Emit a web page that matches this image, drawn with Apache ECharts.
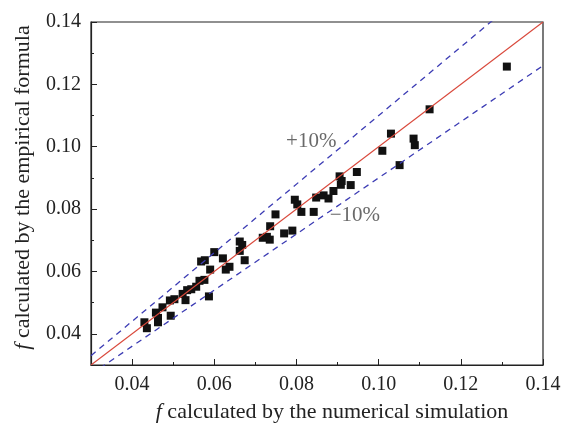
<!DOCTYPE html>
<html>
<head>
<meta charset="utf-8">
<script src="https://cdn.jsdelivr.net/npm/echarts@6/dist/echarts.min.js"></script>
<style>
  html, body { margin: 0; padding: 0; background: #fff; }
  #chart { width: 562px; height: 425px; }
</style>
</head>
<body>
<div id="chart"></div>
<script>
// f from the numerical simulation (x) vs f from the empirical formula (y)
var points = [
  [0.0430, 0.0437], [0.0436, 0.0418], [0.0458, 0.0468], [0.0463, 0.0451],
  [0.0463, 0.0437], [0.0474, 0.0485], [0.0494, 0.0458], [0.0492, 0.0507],
  [0.0503, 0.0511], [0.0523, 0.0528], [0.0530, 0.0508], [0.0534, 0.0540],
  [0.0544, 0.0543], [0.0556, 0.0551], [0.0564, 0.0570], [0.0576, 0.0573],
  [0.0587, 0.0520], [0.0568, 0.0632], [0.0577, 0.0636], [0.0590, 0.0606],
  [0.0600, 0.0662], [0.0621, 0.0642], [0.0628, 0.0606], [0.0637, 0.0615],
  [0.0662, 0.0696], [0.0668, 0.0685], [0.0662, 0.0666], [0.0674, 0.0636],
  [0.0718, 0.0708], [0.0728, 0.0711], [0.0735, 0.0702], [0.0736, 0.0745],
  [0.0749, 0.0783], [0.0770, 0.0722], [0.0790, 0.0731], [0.0796, 0.0830],
  [0.0802, 0.0815], [0.0812, 0.0791], [0.0842, 0.0791], [0.0848, 0.0837],
  [0.0866, 0.0844], [0.0878, 0.0834], [0.0890, 0.0858], [0.0905, 0.0905],
  [0.0910, 0.0890], [0.0908, 0.0878], [0.0932, 0.0877], [0.0947, 0.0919],
  [0.1009, 0.0987], [0.1030, 0.1042], [0.1051, 0.0941], [0.1085, 0.1026],
  [0.1088, 0.1005], [0.1124, 0.1120], [0.1312, 0.1257]
];

var axisMin = 0.03;
var axisMax = 0.14;
var majorTicks = [0.04, 0.06, 0.08, 0.10, 0.12, 0.14];
var minorTicks = [0.05, 0.07, 0.09, 0.11, 0.13];

// reference lines: y = x and +/-10 %
var bandFactors = [1.1, 0.9];
var perfectLine = [[axisMin, axisMin], [axisMax, axisMax]];
var upperLine = [[axisMin, axisMin * bandFactors[0]], [axisMax, axisMax * bandFactors[0]]];
var lowerLine = [[axisMin, axisMin * bandFactors[1]], [axisMax, axisMax * bandFactors[1]]];

var notes = [
  { text: '+10%', at: [0.0836, 0.1018] },
  { text: '\u221210%', at: [0.0942, 0.0781] }
];

var serif = '"Liberation Serif", "DejaVu Serif", serif';
var ink = '#222';

function mainAxis(name, gap, rotate, pad) {
  return {
    type: 'value', min: axisMin, max: axisMax,
    name: name, nameLocation: 'middle', nameGap: gap, nameRotate: rotate,
    nameTextStyle: {
      fontFamily: serif, fontSize: 22, color: ink, padding: pad,
      rich: { i: { fontFamily: serif, fontSize: 22, fontStyle: 'italic', color: ink } }
    },
    axisLine: { show: true, onZero: false, lineStyle: { color: ink, width: 1.2 } },
    axisTick: { show: true, inside: true, length: 6, customValues: majorTicks, lineStyle: { color: ink } },
    axisLabel: {
      customValues: majorTicks, fontFamily: serif, fontSize: 20, color: ink, margin: 10,
      formatter: function (v) { return v.toFixed(2); }
    },
    splitLine: { show: false }
  };
}

function minorAxis(pos) {
  return {
    type: 'value', min: axisMin, max: axisMax, position: pos,
    axisLine: { show: false },
    axisTick: { show: true, inside: true, length: 3, customValues: minorTicks, lineStyle: { color: ink } },
    axisLabel: { show: false },
    splitLine: { show: false }
  };
}

var chart = echarts.init(document.getElementById('chart'), null, { renderer: 'canvas' });

chart.setOption({
  backgroundColor: '#fff',
  animation: false,
  grid: {
    left: 91, right: 19, top: 22, bottom: 60,
    show: true, borderColor: ink, borderWidth: 1.2,
    outerBoundsMode: 'none'
  },
  xAxis: [
    mainAxis('{i|f} calculated by the numerical simulation', 36, 0, [0, 0, 0, 30]),
    minorAxis('bottom')
  ],
  yAxis: [
    mainAxis('{i|f} calculated by the empirical formula', 57, 90, [0, 0, 0, 12]),
    minorAxis('left')
  ],
  series: [
    {
      type: 'line', data: upperLine, symbol: 'none', clip: true,
      lineStyle: { color: '#3c3cb4', width: 1.3, type: [6, 5] }
    },
    {
      type: 'line', data: lowerLine, symbol: 'none', clip: true,
      lineStyle: { color: '#3c3cb4', width: 1.3, type: [6, 5] }
    },
    {
      type: 'line', data: perfectLine, symbol: 'none', clip: true,
      lineStyle: { color: '#d9483b', width: 1.1 }
    },
    {
      type: 'scatter', data: points, symbol: 'rect', symbolSize: 8,
      itemStyle: { color: '#111', opacity: 1 }
    },
    {
      type: 'scatter', symbolSize: 0, silent: true, z: 5,
      data: notes.map(function (n) { return { value: n.at, name: n.text }; }),
      label: {
        show: true, position: 'inside', formatter: '{b}',
        fontFamily: serif, fontSize: 21, color: '#444'
      }
    }
  ]
});
</script>
</body>
</html>
